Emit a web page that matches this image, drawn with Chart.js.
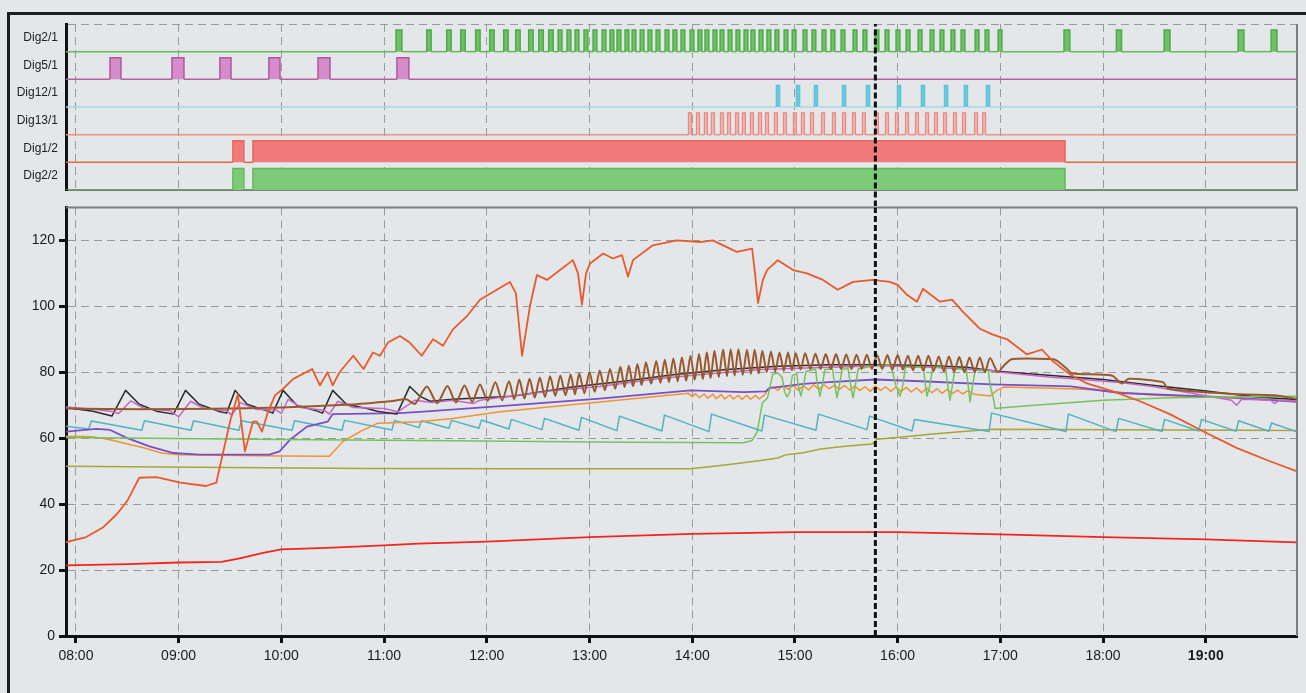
<!DOCTYPE html>
<html>
<head>
<meta charset="utf-8">
<script src="https://cdn.jsdelivr.net/npm/chart.js@4.4.1/dist/chart.umd.min.js"></script>
<style>
  body { margin: 0; background: #e4e7e9; width: 1306px; height: 693px; overflow: hidden; position: relative; }
  #frame { position: absolute; left: 7px; top: 12px; width: 1400px; height: 800px;
           border-left: 3px solid #1e1e1e; border-top: 3px solid #1e1e1e; }
  #digital { position: absolute; left: 0; top: 0; }
  #analog { position: absolute; left: 0; top: 195px; }
</style>
</head>
<body>
<div id="frame"></div>
<canvas id="digital" width="1306" height="206"></canvas>
<canvas id="analog" width="1306" height="498"></canvas>
<script>
// time is in minutes of the day (480 = 08:00)
const timeMin = 474.2;
const timeMax = 1193.3;
const hourTicks = [480, 540, 600, 660, 720, 780, 840, 900, 960, 1020, 1080, 1140];
const hourLabels = ['08:00', '09:00', '10:00', '11:00', '12:00', '13:00', '14:00', '15:00', '16:00', '17:00', '18:00', '19:00'];
const valueTicks = [0, 20, 40, 60, 80, 100, 120];
const cursorTime = 947;

// digital channels, top to bottom; pulses are [on, off] times
const channelNames = ['Dig2/1', 'Dig5/1', 'Dig12/1', 'Dig13/1', 'Dig1/2', 'Dig2/2'];
const dig2_1 = [[667,670.4],[684.9,687.5],[696.6,699.2],[704.8,707.4],[713.5,716.1],[721.7,724.3],[729.9,732.5],
  [736.9,739.5],[744.5,747.1],[750.4,753],[756.2,758.8],[761.7,763.9],[766.9,769.1],[771.6,773.8],[776.8,779],
  [782.1,784.3],[787.4,789.6],[792,794.2],[796.1,798.3],[800.8,803],[804.9,807.1],[809.6,811.8],[814.2,816.4],
  [818.9,821.1],[824.2,826.4],[828.8,831],[833.5,835.7],[838.8,841],[843.4,845.6],[847.5,849.7],[852.2,854.4],
  [856.3,858.5],[861,863.2],[865.6,867.8],[870.3,872.5],[874.4,876.6],[879.1,881.3],[883.7,885.9],[888.4,890.6],
  [893.7,895.9],[898.4,900.6],[904.8,907],[910,912.2],[915.9,918.1],[921.1,923.3],[927,929.2],[934,936.2],[939.8,942],
  [946.8,949],[952.7,954.9],[959.1,961.3],[965,967.2],[972,974.2],[979,981.2],[984.8,987],[991.2,993.4],[997.1,999.3],
  [1005.3,1007.5],[1011.1,1013.3],[1018.7,1020.9],[1057.2,1060.6],[1087.8,1090.8],[1115.7,1119.1],[1158.9,1162.3],
  [1178.2,1181.6]];
const dig5_1 = [[499.9,506.3],[536.1,543.1],[564.1,570.6],[592.7,599.2],[621.4,628.4],[667.5,674.5]];
const dig12_1 = [[889.2,891],[900.9,902.7],[911.4,913.2],[927.8,929.6],[941.8,943.6],[959.9,961.7],[973.9,975.7],
  [987.4,989.2],[999,1000.8],[1011.9,1013.7]];
const dig13_1 = [[837.9,839.5],[842.6,844.2],[847.2,848.8],[851.3,852.9],[856.6,858.2],[860.7,862.3],[865.4,867],
  [869.4,871],[874.1,875.7],[878.8,880.4],[882.9,884.5],[888.1,889.7],[893.4,895],[899.2,900.8],[903.9,905.5],[909.2,910.8],
  [915.6,917.2],[922,923.6],[927.9,929.5],[933.7,935.3],[939.5,941.1],[947.1,948.7],[953,954.6],[958.8,960.4],[964.7,966.3],
  [970.5,972.1],[976.4,978],[981.6,983.2],[986.9,988.5],[992.7,994.3],[998,999.6],[1005,1006.6],[1009.7,1011.3]];
const dig1_2 = [[571.7,578.1],[583.4,1057.8]];
const dig2_2 = [[571.7,578.1],[583.4,1057.8]];

// analog channels, [time, value]
const collector = [[474,28.4],[486,30],[496,33],[504,37],[510,41],[517,48],[527,48.2],[541,46.5],[556,45.5],[562,46.5],
  [570,65],[574.6,73.3],[578.7,56],[583.4,65],[585.7,65],[588.7,62],[592.2,68],[596.3,73],[601,75],[607,78],[618,81],
  [622.5,76],[627,80],[630,76],[634,80],[642,85],[648,81],[653.5,86],[657.6,85],[662.3,89],[669.3,91],[675,89],[682,85],
  [688.6,90],[694.4,88],[700.2,93],[708.4,97],[716,102],[733.5,107.4],[737,104],[740.6,85],[745.2,100],[749.3,109.5],
  [755.2,108],[770.3,114],[773.3,110],[775.6,100.5],[778,110],[780.3,113],[788,116],[793.7,114.5],[799,115.5],[802.5,109],
  [805.4,114],[817,118.5],[831,120],[844.5,119.5],[852,120],[866,116.5],[875,117.5],[876.7,110],[878.4,101],[881.3,108],
  [883.7,111],[890,114],[899,111],[907,110],[916.4,108],[925,105],[934,107.4],[945.6,108],[955.5,107.4],[960,106.5],
  [965.5,103.5],[971.3,101.4],[974.8,105.3],[984.7,101.4],[991.8,102],[998.2,98.3],[1008,93.2],[1015.7,91.4],[1024,90],
  [1035.6,85.4],[1044.3,86.9],[1050.8,83.3],[1060.7,79.3],[1070.6,76.6],[1085.8,74.2],[1101.6,71.2],[1119,67.3],
  [1138.4,62.1],[1158.3,57],[1177.5,53],[1193,50]];
const outdoor = [[474,21.4],[510,21.8],[540,22.3],[565,22.5],[575,23.5],[590,25.3],[600,26.3],[630,26.8],[660,27.5],
  [680,28],[720,28.6],[780,30],[840,31],[900,31.5],[960,31.5],[1020,30.8],[1080,30],[1140,29.3],[1193,28.4]];
const storageTop = [[474,69],[520,68.8],[560,68.9],[600,69.3],[640,70.2],[665,71.3],[673,71.8],[678,70.4],
  [685,75.7],[691,70.6],[697,75.8],[702,70.8],[707,76],[711.5,71],[716,76.3],[720.5,71.3],[725,77],[729,71.5],[733,77.3],
  [736,71.8],[739,77.8],[742,72],[745,78],[748,72.3],[751,78.4],[754,72.5],[757,78.8],[760,72.8],[763,79],[766,73],
  [769,79.3],[771.5,73.3],[774,79.6],[777,73.6],[780,80],[783,74],[786,80.5],[789,74.5],[792,81],[795,75],[798,81.6],
  [800.5,75.5],[803,82],[805.5,75.8],[808,82.5],[810.5,76.2],[813,83],[816,76.5],[819,83.4],[821.5,76.8],[824,83.8],
  [826.5,77],[829,84.2],[831.5,77.2],[834,84.5],[836.5,77.5],[839,85],[841.5,77.8],[844,85.5],[846.3,78],[848.5,86],
  [850.8,78.3],[853,86.5],[855.5,78.5],[858,86.8],[860.3,78.8],[862.5,87],[864.8,79],[867,87],[869.5,79.2],[872,86.8],
  [874.3,79.5],[876.5,86.8],[878.8,79.7],[881,86.5],[883.5,80],[886,86.3],[888.5,80.2],[891,86],[893.5,80.4],[896,86],
  [898.3,80.6],[900.5,85.8],[903.3,80.8],[906,85.8],[909,81],[912,85.6],[915,81],[918,85.5],[921,81],[924,85.5],[927,81],
  [930,85.4],[933,81],[936,85.3],[939,81],[942,85.3],[945,81],[948,85.2],[951,81],[954,85.2],[957,80.8],[960,85.2],
  [963,80.8],[966,85],[969,80.6],[972,85],[975,80.5],[978,85],[981,80.4],[984,84.8],[987,80.3],[990,84.8],[993,80.2],
  [996,84.6],[999,80],[1002,84.5],[1005,80],[1008,84.5],[1011,80],[1014,84.3],[1018.5,80],[1022,82],[1027,84],[1050,84],
  [1053,83.5],[1059,81],[1062,79.6],[1085,79],[1091,76.6],[1095,78],[1115,77],[1118,75],[1160,73.3],[1180,73],[1193,72]];
const boilerFlow = [[474,69.3],[490,68.2],[501,66.7],[509,74.5],[517,70.3],[527,68.2],[537,67.3],[544,74.5],[552,70.3],
  [563,68.2],[568,67.6],[573,74.5],[580,70.3],[592,68.2],[595,67.6],[601,74.5],[609,70],[621,68.2],[624,67.6],[630,74.5],
  [638,70.3],[650,69],[656,68.2],[667.5,67.3],[675,75.7],[681,72.7],[687,71.2],[700,71.8],[735,72.7],[770,75.5],[800,77.3],
  [830,79.3],[860,80.8],[890,81.8],[920,82.3],[950,82.3],[980,82],[1000,81.5],[1018,80.3],[1050,79],[1080,77.8],
  [1110,76],[1140,74.3],[1170,72.5],[1193,71.7]];
const boilerReturn = [[474,69.5],[490,68.8],[500,68.2],[505,67.5],[512,71.3],[520,69],[535,68.3],[540,66.5],[547,71.2],
  [555,69],[568,68.3],[571,67],[576,70.8],[585,68.8],[597,68.5],[600,67.5],[604,71.8],[612,69.2],[625,68.5],[628,67.3],
  [633,71.2],[642,69.3],[660,69],[668,68],[678,71.5],[688,70.8],[700,71.5],[712,70.5],[716,71.5],[730,72.5],[760,74.5],
  [786,75.7],[820,78],[845,79.3],[880,80.8],[920,81.5],[950,82],[980,81.5],[1015,80.5],[1020,80],[1050,78.5],[1090,76.9],
  [1110,75.6],[1155,71.5],[1158,70],[1161,71.8],[1178,71.5],[1180,70.5],[1183,71.5],[1193,71.2]];
const storageMid = [[474,62],[492,62.8],[500,62.5],[510,60],[523,57.5],[537,55.5],[552,55],[593,55],[599,56],[605,59.5],
  [615,63.5],[627,65],[630,67.3],[669,67.6],[681,68],[728,69.7],[786,72],[839,74.5],[870,74],[883,74.2],[885,75.2],
  [905,76.5],[920,77],[947,77.8],[977,77.2],[1015,76.3],[1061,75.7],[1090,73.7],[1160,72.2],[1193,71]];
const heatingFlow = [[474,60.6],[490,60.4],[500,59.5],[520,57],[530,55.5],[540,55],[600,54.6],[628,54.5],[636,59],
  [646,62],[656,64.5],[681,65],[700,66],[728,68],[786,71],[838,73.6],[840,72.6],[842,73.5],[844,72.3],[847,73.4],
  [849,72.1],[852,73.3],[854,72],[857,73.2],[859,71.9],[862,73.1],[864,71.9],[867,73],[869,71.8],[872,73],[874,71.8],
  [877,73],[879,71.9],[882,73],[884,74.5],[887,75.6],[890,74.5],[893,76],[896,74.8],[899,76],[902,74.5],[905,76],
  [908,74.6],[911,76.2],[914,74.8],[917,76.2],[920,75],[923,76],[926,74.8],[929,76],[932,74.6],[935,75.8],[938,74.5],
  [941,75.6],[944,74.2],[947,75.8],[950,74.5],[953,75.6],[956,74.2],[959,75.5],[962,74.2],[965,75.4],[968,74],[971,75.3],
  [974,73.8],[977,75.2],[980,73.8],[983,75],[986,73.6],[989,74.8],[992,73.5],[995,74.6],[998,73.4],[1001,74.4],
  [1005,73.3],[1010,73],[1014,72.8],[1018,74.5],[1022,75.5],[1060,75],[1071,74.8],[1110,73],[1130,72.7],[1193,71.3]];
const hotWater = [[474,63.6],[487.5,62.8],[489,65.2],[518.5,62.4],[520,65.3],[547.2,62.4],[548.7,65.3],[575.2,62.4],
  [576.7,65.3],[606.2,62.4],[607.7,65.3],[635.4,62.4],[636.9,65.4],[664.6,62.5],[666.1,65.4],[680.4,63.2],[681.9,65.3],
  [697.9,63],[699.4,65.4],[715.4,63],[716.9,65.5],[732.9,62.8],[734.4,65.7],[752.2,62.6],[753.7,66],[773.8,62.4],
  [775.3,66.3],[796,62.3],[797.5,66.7],[822.3,62.2],[823.8,67],[849.8,62],[851.3,67.3],[880.7,62.2],[882.2,67],
  [912.3,62.4],[913.8,67.3],[942.1,62.6],[943.6,66.7],[968.4,62.2],[969.9,65.7],[1013.4,62],[1014.9,67.6],[1058.3,62],
  [1059.8,67.3],[1087.6,62],[1089.1,66],[1114.4,62],[1115.9,65.7],[1136,62.2],[1137.5,65.7],[1157.7,62.1],[1159.2,65.3],
  [1176.9,62.1],[1178.4,64.6],[1193,62]];
const bufferLow = [[474,60.2],[600,59.6],[700,59.2],[800,58.8],[870,58.6],[875,59.3],[878,62],[881,70.7],[884,72.2],
  [887,79.3],[890,79.8],[892.5,78.5],[894,74],[895.4,72.5],[897,74],[898.5,79],[901,79.6],[902,76],[903.5,72.8],[905,76],
  [906.5,80.2],[912,81],[913,77],[914.6,72.7],[916,76],[917.5,80.8],[922,81],[923,77],[924.6,72.2],[926,76],[927.5,80.8],
  [931,81.2],[932.3,77],[933.9,72.2],[935.3,76],[937,81],[946,82],[956,82.3],[957.5,79],[959,76],[961.4,72.7],[963,76],
  [964.5,81.5],[975,81.5],[976,77],[977.2,72.7],[978.8,76],[980.5,81.5],[988,81.5],[989,77],[990.6,71.5],[992,76],
  [993.5,81],[1000,81],[1001,77],[1002.3,71],[1003.8,76],[1005.3,80.5],[1013,80.5],[1014,76],[1015.7,72.7],[1017,69],
  [1025,69.4],[1040,70],[1080,71.5],[1120,72.3],[1193,72.7]];
const storageBottom = [[474,51.5],[550,51.2],[650,50.8],[750,50.7],[839,50.7],[850,51.3],[864,52.2],[880,53.2],[890,54],
  [895,55],[905,55.6],[915,56.7],[928,57.5],[945,58.2],[948,59.7],[961,60.3],[979,61.2],[1000,62.1],[1016,62.7],[1193,62.3]];

const FONT = '"Liberation Sans", Arial, sans-serif';
const GRID = '#9a9a9a';

// right / top edge of each plot panel
const panelFrame = {
  id: 'panelFrame',
  beforeDatasetsDraw(chart, args, opts) {
    const { ctx, chartArea: a } = chart;
    ctx.save();
    ctx.strokeStyle = '#7d7d7d';
    ctx.lineWidth = 2;
    ctx.beginPath();
    ctx.moveTo(a.right, a.top);
    ctx.lineTo(a.right, a.bottom);
    if (opts.top) {
      ctx.moveTo(a.left, a.top);
      ctx.lineTo(a.right, a.top);
    }
    ctx.stroke();
    ctx.restore();
  }
};

function pulseTrain(pulses, base) {
  const high = base + 0.78;
  const pts = [{ x: timeMin, y: base }];
  pulses.forEach(([on, off]) => {
    pts.push({ x: on, y: base }, { x: on, y: high }, { x: off, y: high }, { x: off, y: base });
  });
  pts.push({ x: timeMax, y: base });
  return pts;
}

function channel(pulses, base, line, edge, fill) {
  return {
    data: pulseTrain(pulses, base),
    borderWidth: 1.5,
    borderColor: edge,
    backgroundColor: fill,
    fill: { value: base },
    segment: {
      borderColor: c => (c.p0.parsed.y === base && c.p1.parsed.y === base) ? line : edge
    }
  };
}

function trace(data, color, width) {
  return { data, borderColor: color, borderWidth: width || 1.5, fill: false };
}

const cursorDigital = {
  data: [{ x: cursorTime, y: -0.6 }, { x: cursorTime, y: 6 }],
  borderColor: '#111', borderWidth: 3, borderDash: [6, 3], clip: false
};
const cursorAnalog = {
  data: [{ x: cursorTime, y: 0 }, { x: cursorTime, y: 130 }],
  borderColor: '#111', borderWidth: 3, borderDash: [6, 3]
};

const hourScale = {
  type: 'linear',
  min: timeMin,
  max: timeMax,
  afterBuildTicks: s => { s.ticks = hourTicks.map(v => ({ value: v })); }
};

new Chart(document.getElementById('digital'), {
  type: 'line',
  data: {
    datasets: [
      cursorDigital,
      channel(dig2_1, 5, '#66b95a', '#4fa94a', '#6fc166'),
      channel(dig5_1, 4, '#b4629f', '#b0579f', '#d48ccb'),
      channel(dig12_1, 3, '#a9d9e4', '#5cc3d8', '#6ccbe0'),
      channel(dig13_1, 2, '#ee9280', '#ee8880', 'rgba(246,184,178,0.6)'),
      channel(dig1_2, 1, '#e8673a', '#e8665a', '#f07b7a'),
      channel(dig2_2, 0, '#5db352', '#62b95a', '#7dcb78')
    ]
  },
  plugins: [panelFrame],
  options: {
    responsive: false,
    animation: false,
    events: [],
    layout: { padding: { top: 24, right: 9, bottom: 16, left: 0 } },
    elements: { point: { radius: 0 } },
    plugins: { legend: { display: false }, tooltip: { enabled: false }, panelFrame: { top: false } },
    scales: {
      x: Object.assign({}, hourScale, {
        afterFit: s => { s.height = 0; },
        ticks: { display: false },
        grid: { color: GRID, lineWidth: 1, drawTicks: false },
        border: { color: '#7d7d7d', width: 2, dash: [8, 5] }
      }),
      y: {
        min: 0,
        max: 6,
        afterBuildTicks: s => { s.ticks = [0.5, 1.5, 2.5, 3.5, 4.5, 5.5, 6].map(v => ({ value: v })); },
        afterFit: s => { s.width = 66; },
        ticks: {
          callback: v => v < 6 ? channelNames[Math.round(5.5 - v)] : '',
          color: '#222',
          font: { family: FONT, size: 12 },
          padding: 8
        },
        grid: { color: c => c.tick && c.tick.value === 6 ? GRID : 'transparent', lineWidth: 1, drawTicks: false },
        border: { color: '#111', width: 3, dash: [8, 5] }
      }
    }
  }
});

new Chart(document.getElementById('analog'), {
  type: 'line',
  data: {
    datasets: [
      cursorAnalog,
      trace(collector, '#e85a2c', 1.8),
      trace(outdoor, '#f2261a', 1.8),
      Object.assign(trace(storageTop, '#98592e', 2), { tension: 0.25 }),
      trace(bufferLow, '#74c35c', 1.5),
      trace(boilerReturn, '#c566c6', 1.5),
      trace(boilerFlow, '#2b2b2b', 1.5),
      trace(storageMid, '#7b4fc4', 1.8),
      trace(heatingFlow, '#f29236', 1.5),
      trace(hotWater, '#4fb3c2', 1.5),
      trace(storageBottom, '#aaa43a', 1.5)
    ]
  },
  plugins: [panelFrame],
  options: {
    responsive: false,
    animation: false,
    events: [],
    layout: { padding: { top: 10, right: 9, bottom: 0, left: 0 } },
    elements: { point: { radius: 0 }, line: { borderJoinStyle: 'round' } },
    plugins: { legend: { display: false }, tooltip: { enabled: false }, panelFrame: { top: true } },
    scales: {
      x: Object.assign({}, hourScale, {
        afterFit: s => { s.height = 57; },
        ticks: {
          callback: v => hourLabels[hourTicks.indexOf(v)],
          color: '#1a1a1a',
          font: c => ({ family: FONT, size: 14, weight: c.tick && c.tick.value === 1140 ? 'bold' : 'normal' }),
          padding: 5,
          maxRotation: 0,
          autoSkip: false
        },
        grid: { color: GRID, lineWidth: 1, tickColor: '#111', tickWidth: 3, tickLength: 7 },
        border: { color: '#111', width: 3, dash: [8, 5] }
      }),
      y: {
        min: 0,
        max: 130,
        afterBuildTicks: s => { s.ticks = valueTicks.map(v => ({ value: v })); },
        afterFit: s => { s.width = 66; },
        ticks: { color: '#1a1a1a', font: { family: FONT, size: 14 }, padding: 4 },
        grid: { color: c => c.tick && c.tick.value === 0 ? 'transparent' : GRID, lineWidth: 1, tickColor: '#111', tickWidth: 3, tickLength: 7 },
        border: { color: '#111', width: 3, dash: [8, 5] }
      }
    }
  }
});
</script>
</body>
</html>
